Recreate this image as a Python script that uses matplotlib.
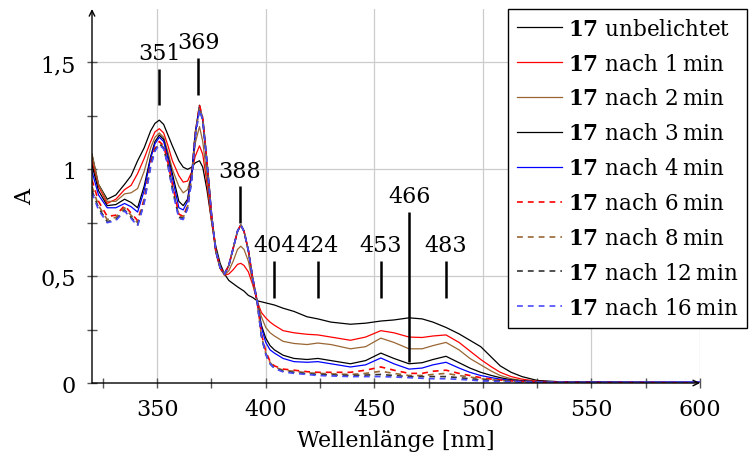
import numpy as np
import matplotlib.pyplot as plt

plt.rcParams['font.family'] = ['DejaVu Serif']
plt.rcParams['mathtext.fontset'] = 'dejavuserif'

# Wellenlaengen (nm)
wl = [320, 323, 327, 331, 335, 338, 341, 344, 347, 349,
      351, 353, 355, 357, 360, 362, 364, 366, 367.5, 369.5,
      371, 373, 375, 377, 379, 381, 383, 385, 387, 388.5,
      390, 392, 394, 396, 398, 400, 402, 404, 408, 413,
      419, 424, 430, 439, 446, 453, 459, 466, 472, 477,
      483, 489, 494, 499, 504, 508, 513, 518, 525, 535,
      550, 575, 600]

a_0 = [1.07, 0.93, 0.86, 0.88, 0.93, 0.97, 1.04, 1.10, 1.18, 1.215,
       1.23, 1.21, 1.16, 1.11, 1.04, 1.01, 1.00, 1.01, 1.03, 1.04,
       1.01, 0.90, 0.76, 0.64, 0.56, 0.51, 0.48, 0.465, 0.45, 0.44,
       0.43, 0.41, 0.40, 0.385, 0.38, 0.375, 0.37, 0.365, 0.35, 0.335,
       0.31, 0.30, 0.285, 0.275, 0.28, 0.29, 0.295, 0.305, 0.30, 0.285,
       0.26, 0.23, 0.20, 0.17, 0.12, 0.08, 0.05, 0.03, 0.012, 0.006,
       0.004, 0.003, 0.002]

a_1 = [1.04, 0.92, 0.84, 0.86, 0.905, 0.925, 0.98, 1.05, 1.13, 1.175,
       1.19, 1.17, 1.11, 1.04, 0.97, 0.94, 0.945, 0.99, 1.06, 1.11,
       1.07, 0.93, 0.76, 0.62, 0.54, 0.505, 0.51, 0.53, 0.555, 0.56,
       0.55, 0.52, 0.46, 0.385, 0.33, 0.305, 0.285, 0.27, 0.245, 0.235,
       0.228, 0.225, 0.215, 0.20, 0.215, 0.245, 0.235, 0.215, 0.213, 0.22,
       0.225, 0.19, 0.15, 0.11, 0.075, 0.05, 0.03, 0.018, 0.008, 0.005,
       0.003, 0.002, 0.001]

a_2 = [1.07, 0.93, 0.85, 0.85, 0.885, 0.89, 0.91, 0.99, 1.10, 1.15,
       1.17, 1.15, 1.08, 1.00, 0.92, 0.89, 0.905, 0.98, 1.12, 1.20,
       1.13, 0.96, 0.77, 0.61, 0.535, 0.505, 0.525, 0.57, 0.625, 0.64,
       0.625, 0.57, 0.47, 0.385, 0.31, 0.26, 0.235, 0.22, 0.195, 0.185,
       0.18, 0.187, 0.18, 0.16, 0.17, 0.21, 0.19, 0.16, 0.16, 0.175,
       0.19, 0.155, 0.115, 0.085, 0.055, 0.035, 0.02, 0.012, 0.006, 0.004,
       0.003, 0.002, 0.001]

a_3 = [1.02, 0.90, 0.83, 0.835, 0.86, 0.845, 0.82, 0.92, 1.06, 1.13,
       1.16, 1.14, 1.06, 0.98, 0.85, 0.83, 0.86, 0.99, 1.17, 1.30,
       1.23, 1.02, 0.79, 0.62, 0.54, 0.51, 0.55, 0.63, 0.71, 0.74,
       0.71, 0.62, 0.49, 0.385, 0.27, 0.21, 0.175, 0.155, 0.13, 0.115,
       0.11, 0.115, 0.105, 0.09, 0.105, 0.14, 0.115, 0.09, 0.095, 0.11,
       0.125, 0.095, 0.07, 0.05, 0.035, 0.025, 0.015, 0.01, 0.006, 0.004,
       0.003, 0.002, 0.002]

a_4 = [0.99, 0.88, 0.82, 0.82, 0.84, 0.825, 0.80, 0.90, 1.05, 1.12,
       1.15, 1.13, 1.05, 0.96, 0.82, 0.81, 0.85, 0.98, 1.16, 1.29,
       1.23, 1.02, 0.79, 0.62, 0.54, 0.51, 0.55, 0.63, 0.71, 0.74,
       0.71, 0.62, 0.49, 0.385, 0.26, 0.19, 0.155, 0.14, 0.115, 0.10,
       0.097, 0.10, 0.09, 0.075, 0.085, 0.117, 0.09, 0.065, 0.07, 0.085,
       0.097, 0.07, 0.05, 0.035, 0.025, 0.018, 0.012, 0.008, 0.006, 0.005,
       0.005, 0.005, 0.005]

a_6 = [0.95, 0.85, 0.78, 0.785, 0.83, 0.795, 0.76, 0.86, 1.03, 1.10,
       1.13, 1.11, 1.03, 0.93, 0.79, 0.78, 0.83, 0.97, 1.16, 1.30,
       1.24, 1.03, 0.79, 0.62, 0.54, 0.51, 0.55, 0.63, 0.71, 0.74,
       0.71, 0.62, 0.49, 0.385, 0.23, 0.15, 0.10, 0.08, 0.065, 0.06,
       0.053, 0.05, 0.05, 0.05, 0.06, 0.075, 0.06, 0.045, 0.045, 0.055,
       0.06, 0.045, 0.035, 0.025, 0.018, 0.014, 0.01, 0.007, 0.004, 0.003,
       0.002, 0.002, 0.001]

a_8 = [0.92, 0.83, 0.765, 0.775, 0.82, 0.785, 0.75, 0.85, 1.02, 1.09,
       1.12, 1.10, 1.02, 0.92, 0.78, 0.775, 0.825, 0.965, 1.16, 1.29,
       1.24, 1.03, 0.79, 0.62, 0.54, 0.51, 0.55, 0.63, 0.71, 0.74,
       0.71, 0.62, 0.49, 0.385, 0.22, 0.14, 0.095, 0.075, 0.06, 0.055,
       0.048, 0.045, 0.043, 0.04, 0.045, 0.055, 0.045, 0.035, 0.035, 0.04,
       0.045, 0.035, 0.028, 0.02, 0.015, 0.012, 0.009, 0.006, 0.004, 0.003,
       0.002, 0.002, 0.001]

a_12 = [0.90, 0.82, 0.755, 0.765, 0.81, 0.775, 0.74, 0.845, 1.02, 1.09,
        1.12, 1.10, 1.02, 0.91, 0.775, 0.77, 0.82, 0.96, 1.15, 1.28,
        1.23, 1.03, 0.79, 0.62, 0.54, 0.51, 0.55, 0.63, 0.71, 0.74,
        0.71, 0.62, 0.49, 0.385, 0.22, 0.135, 0.09, 0.07, 0.055, 0.05,
        0.043, 0.04, 0.038, 0.035, 0.037, 0.04, 0.035, 0.03, 0.03, 0.03,
        0.03, 0.025, 0.02, 0.015, 0.012, 0.01, 0.008, 0.006, 0.004, 0.003,
        0.002, 0.002, 0.001]

a_16 = [0.89, 0.81, 0.75, 0.76, 0.805, 0.77, 0.735, 0.84, 1.01, 1.085,
        1.115, 1.095, 1.015, 0.905, 0.77, 0.765, 0.815, 0.955, 1.15, 1.28,
        1.23, 1.03, 0.79, 0.62, 0.54, 0.51, 0.55, 0.63, 0.71, 0.74,
        0.71, 0.62, 0.49, 0.385, 0.22, 0.135, 0.09, 0.068, 0.052, 0.045,
        0.04, 0.035, 0.033, 0.03, 0.03, 0.03, 0.028, 0.025, 0.022, 0.02,
        0.02, 0.017, 0.014, 0.01, 0.008, 0.007, 0.006, 0.005, 0.004, 0.003,
        0.002, 0.002, 0.001]

labels = [r'$\mathbf{17}$ unbelichtet',
          r'$\mathbf{17}$ nach 1' + '\u2009' + 'min',
          r'$\mathbf{17}$ nach 2' + '\u2009' + 'min',
          r'$\mathbf{17}$ nach 3' + '\u2009' + 'min',
          r'$\mathbf{17}$ nach 4' + '\u2009' + 'min',
          r'$\mathbf{17}$ nach 6' + '\u2009' + 'min',
          r'$\mathbf{17}$ nach 8' + '\u2009' + 'min',
          r'$\mathbf{17}$ nach 12' + '\u2009' + 'min',
          r'$\mathbf{17}$ nach 16' + '\u2009' + 'min']

# markierte Banden: Position, Strich unten, Strich oben
band_wl = [351, 369, 388, 404, 424, 453, 466, 483]
band_lo = [1.30, 1.35, 0.75, 0.40, 0.40, 0.40, 0.10, 0.40]
band_hi = [1.47, 1.52, 0.92, 0.57, 0.57, 0.57, 0.80, 0.57]

series = [a_0, a_1, a_2, a_3, a_4, a_6, a_8, a_12, a_16]
colors = ['black', 'red', '#996633', 'black', 'blue',
          'red', '#996633', '#333333', '#4a4aff']
dashed = [False, False, False, False, False, True, True, True, True]

fig = plt.figure(figsize=(7.51, 4.64), dpi=100)
ax = fig.add_axes([0.1225, 0.1724, 0.8097, 0.806])

for y, c, d, lab in zip(series, colors, dashed, labels):
    if d:
        ax.plot(wl, y, color=c, lw=1.2, linestyle=(0, (3.5, 3)), label=lab)
    else:
        ax.plot(wl, y, color=c, lw=0.9, label=lab)

for b, lo, hi in zip(band_wl, band_lo, band_hi):
    ax.plot([b, b], [lo, hi], color='black', lw=1.8, solid_capstyle='butt')
    ax.annotate(str(b), (b, hi), xytext=(0, 7), textcoords='offset points',
                ha='center', va='baseline', fontsize=16)

ax.set_xlim(320, 600)
ax.set_ylim(0, 1.75)
ax.set_xticks([350, 400, 450, 500, 550, 600])
ax.set_xticks(np.arange(325, 600, 50), minor=True)
ax.set_yticks([0, 0.5, 1, 1.5])
ax.set_yticklabels(['0', '0,5', '1', '1,5'])
ax.set_yticks([0.25, 0.75, 1.25], minor=True)
ax.tick_params(which='both', direction='inout', length=7, width=1,
               color='#555555', labelsize=16)
ax.tick_params(axis='x', pad=7)
ax.tick_params(axis='y', pad=8)
ax.grid(True, which='major', color='#cccccc', lw=0.9)
ax.set_axisbelow(True)

for s in ax.spines.values():
    s.set_visible(False)
# Achsen mit Pfeilspitzen
ax.annotate('', xy=(1.0, 0), xytext=(0, 0), xycoords='axes fraction',
            arrowprops=dict(arrowstyle='->,head_length=0.4,head_width=0.2',
                            lw=1, color='black', shrinkA=0, shrinkB=0))
ax.annotate('', xy=(0, 1.0), xytext=(0, 0), xycoords='axes fraction',
            arrowprops=dict(arrowstyle='->,head_length=0.4,head_width=0.2',
                            lw=1, color='black', shrinkA=0, shrinkB=0))

ax.set_xlabel('Wellenlänge [nm]', fontsize=16, labelpad=7)
ax.set_ylabel('A', fontsize=16, labelpad=3)

leg = ax.legend(loc='upper left', bbox_to_anchor=(508 / 751, 1 - 10 / 464),
                bbox_transform=fig.transFigure, fontsize=15.5, frameon=True,
                fancybox=False, framealpha=1, edgecolor='black',
                borderaxespad=0, borderpad=0.4, handlelength=2.1,
                handletextpad=0.3, labelspacing=0.6)
leg.get_frame().set_linewidth(1.0)

fig.savefig('out.png', dpi=100)
